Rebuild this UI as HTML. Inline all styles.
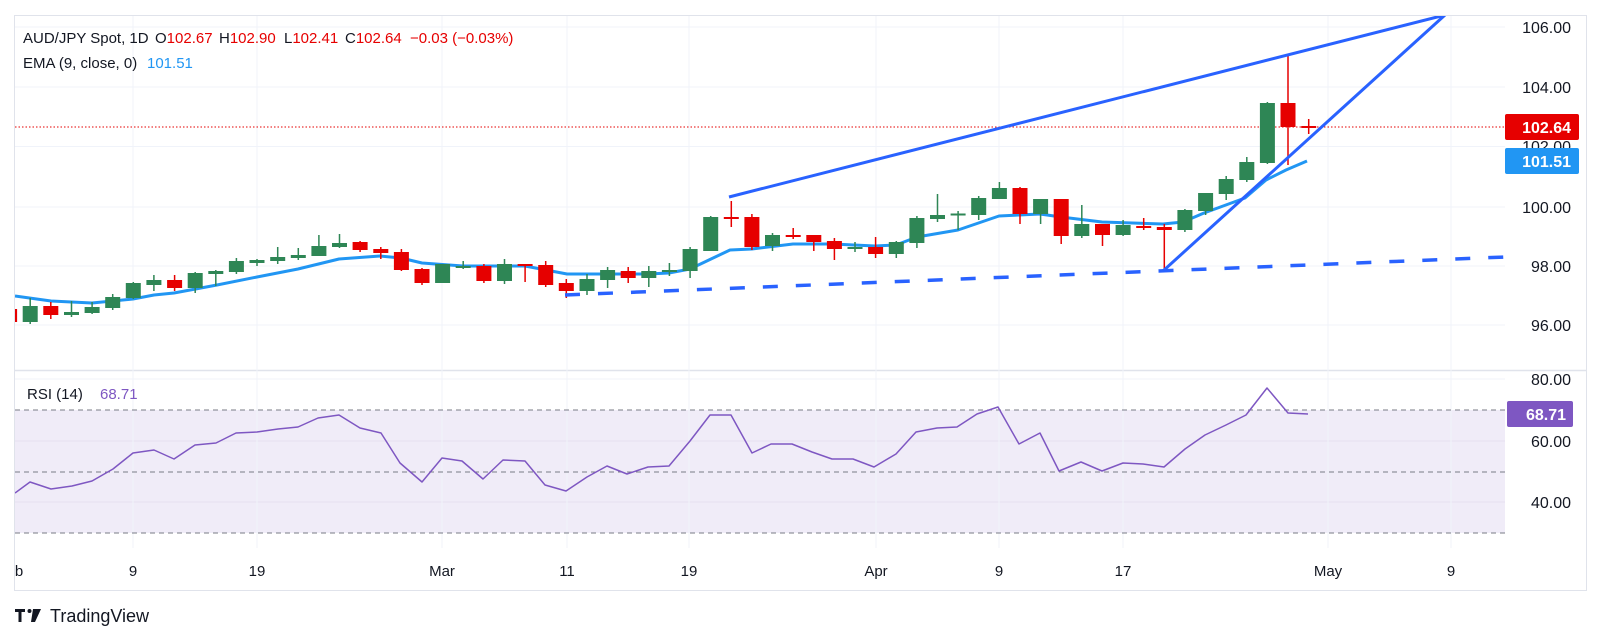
<!DOCTYPE html>
<html><head><meta charset="utf-8"><style>
html,body{margin:0;padding:0;background:#fff;}
svg{display:block;font-family:"Liberation Sans",sans-serif;}
</style></head><body>
<svg width="1601" height="644" viewBox="0 0 1601 644" xmlns="http://www.w3.org/2000/svg">
<defs>
<clipPath id="cm"><rect x="15" y="16" width="1490" height="354"/></clipPath>
<clipPath id="cr"><rect x="15" y="371" width="1490" height="177"/></clipPath>
</defs>
<rect x="0" y="0" width="1601" height="644" fill="#fff"/>
<rect x="14.5" y="15.5" width="1572" height="575" fill="none" stroke="#e0e3eb" stroke-width="1"/>
<line x1="15" y1="370.5" x2="1586" y2="370.5" stroke="#e0e3eb" stroke-width="1.5"/>
<rect x="15" y="410" width="1490" height="123" fill="#f0ecf8"/>
<g stroke="#f0f3fa" stroke-width="1">
<line x1="15" y1="27" x2="1505" y2="27"/><line x1="15" y1="87" x2="1505" y2="87"/>
<line x1="15" y1="146.5" x2="1505" y2="146.5"/><line x1="15" y1="207" x2="1505" y2="207"/>
<line x1="15" y1="266" x2="1505" y2="266"/><line x1="15" y1="325" x2="1505" y2="325"/>
<line x1="15" y1="379" x2="1505" y2="379"/><line x1="15" y1="441" x2="1505" y2="441" stroke="#e6e1f0"/><line x1="15" y1="502" x2="1505" y2="502" stroke="#e6e1f0"/>
<line x1="133" y1="16" x2="133" y2="548"/><line x1="257" y1="16" x2="257" y2="548"/><line x1="442" y1="16" x2="442" y2="548"/>
<line x1="567" y1="16" x2="567" y2="548"/><line x1="689" y1="16" x2="689" y2="548"/><line x1="876" y1="16" x2="876" y2="548"/>
<line x1="999" y1="16" x2="999" y2="548"/><line x1="1123" y1="16" x2="1123" y2="548"/><line x1="1328" y1="16" x2="1328" y2="548"/>
<line x1="1451" y1="16" x2="1451" y2="548"/>
</g>
<g stroke="#787b86" stroke-width="1" stroke-dasharray="5,4">
<line x1="15" y1="410" x2="1505" y2="410"/><line x1="15" y1="472" x2="1505" y2="472"/><line x1="15" y1="533" x2="1505" y2="533"/>
</g>
<g clip-path="url(#cm)">
<line x1="15" y1="127" x2="1505" y2="127" stroke="#e60000" stroke-width="1" stroke-dasharray="1.5,2"/>
<polyline fill="none" stroke="#2196f3" stroke-width="3" stroke-linejoin="round" points="15,296 51,301 92,303 133,299 154,295 174,293 217,285 257,277 298,269 339,259 380,256 401,258 422,263 463,266 504,266 525,266 567,274 607,274 648,274 669,273 690,269 711,259 730,250 752,249 793,244 833,244 875,246 896,245 917,237 958,230 999,216 1019,215 1040,214 1061,217 1102,222 1163,224 1183,222 1204,213 1245,198 1266,180 1286,170 1307,161"/>
<g fill="#2e8655">
<rect x="29.45" y="298" width="1.5" height="26"/><rect x="22.7" y="306" width="15" height="16"/>
<rect x="70.75" y="301" width="1.5" height="16"/><rect x="64" y="312" width="15" height="3"/>
<rect x="91.35" y="302" width="1.5" height="12"/><rect x="84.6" y="307" width="15" height="6"/>
<rect x="111.95" y="294" width="1.5" height="16"/><rect x="105.2" y="297" width="15" height="11"/>
<rect x="132.55" y="282" width="1.5" height="17"/><rect x="125.8" y="283" width="15" height="15"/>
<rect x="153.15" y="275" width="1.5" height="16"/><rect x="146.4" y="280" width="15" height="5"/>
<rect x="194.45" y="272" width="1.5" height="21"/><rect x="187.7" y="273" width="15" height="15"/>
<rect x="215.05" y="270" width="1.5" height="16"/><rect x="208.3" y="271" width="15" height="3"/>
<rect x="235.65" y="258" width="1.5" height="16"/><rect x="228.9" y="261" width="15" height="11"/>
<rect x="256.25" y="259" width="1.5" height="7"/><rect x="249.5" y="260" width="15" height="3"/>
<rect x="276.95" y="247" width="1.5" height="17"/><rect x="270.2" y="257" width="15" height="4"/>
<rect x="297.55" y="248" width="1.5" height="12"/><rect x="290.8" y="255" width="15" height="3"/>
<rect x="318.15" y="235" width="1.5" height="21"/><rect x="311.4" y="246" width="15" height="10"/>
<rect x="338.75" y="234" width="1.5" height="14"/><rect x="332" y="243" width="15" height="4"/>
<rect x="441.85" y="264" width="1.5" height="19"/><rect x="435.1" y="264" width="15" height="19"/>
<rect x="462.45" y="261" width="1.5" height="8"/><rect x="455.7" y="266" width="15" height="2"/>
<rect x="503.75" y="259" width="1.5" height="25"/><rect x="497" y="264" width="15" height="17"/>
<rect x="586.25" y="274" width="1.5" height="21"/><rect x="579.5" y="279" width="15" height="12"/>
<rect x="606.85" y="267" width="1.5" height="21"/><rect x="600.1" y="270" width="15" height="10"/>
<rect x="648.05" y="266" width="1.5" height="21"/><rect x="641.3" y="271" width="15" height="7"/>
<rect x="668.65" y="263" width="1.5" height="13"/><rect x="661.9" y="270" width="15" height="2"/>
<rect x="689.35" y="247" width="1.5" height="31"/><rect x="682.6" y="249" width="15" height="22"/>
<rect x="709.95" y="216" width="1.5" height="35"/><rect x="703.2" y="217" width="15" height="34"/>
<rect x="771.75" y="233" width="1.5" height="18"/><rect x="765" y="235" width="15" height="11"/>
<rect x="854.25" y="242" width="1.5" height="10"/><rect x="847.5" y="247" width="15" height="2"/>
<rect x="895.55" y="241" width="1.5" height="17"/><rect x="888.8" y="242" width="15" height="12"/>
<rect x="916.15" y="216" width="1.5" height="32"/><rect x="909.4" y="218" width="15" height="25"/>
<rect x="936.75" y="194" width="1.5" height="28"/><rect x="930" y="215" width="15" height="4"/>
<rect x="957.35" y="211" width="1.5" height="19"/><rect x="950.6" y="213.5" width="15" height="2"/>
<rect x="977.95" y="196" width="1.5" height="24"/><rect x="971.2" y="198" width="15" height="17"/>
<rect x="998.65" y="182" width="1.5" height="17"/><rect x="991.9" y="188" width="15" height="11"/>
<rect x="1039.85" y="199" width="1.5" height="25"/><rect x="1033.1" y="199" width="15" height="15"/>
<rect x="1081.05" y="205" width="1.5" height="33"/><rect x="1074.3" y="224" width="15" height="12"/>
<rect x="1122.35" y="220" width="1.5" height="16"/><rect x="1115.6" y="225" width="15" height="10"/>
<rect x="1184.15" y="209" width="1.5" height="23"/><rect x="1177.4" y="210" width="15" height="20"/>
<rect x="1204.85" y="193" width="1.5" height="22"/><rect x="1198.1" y="193" width="15" height="18"/>
<rect x="1225.45" y="176" width="1.5" height="24"/><rect x="1218.7" y="179" width="15" height="15"/>
<rect x="1246.05" y="157" width="1.5" height="25"/><rect x="1239.3" y="162" width="15" height="18"/>
<rect x="1266.65" y="102" width="1.5" height="62"/><rect x="1259.9" y="103" width="15" height="60"/>
</g>
<g fill="#e60000">
<rect x="8.85" y="305" width="1.5" height="20"/><rect x="2.1" y="309" width="15" height="13"/>
<rect x="50.05" y="302" width="1.5" height="17"/><rect x="43.3" y="306" width="15" height="9"/>
<rect x="173.85" y="275" width="1.5" height="16"/><rect x="167.1" y="280" width="15" height="8"/>
<rect x="359.35" y="241" width="1.5" height="11"/><rect x="352.6" y="242" width="15" height="8"/>
<rect x="380.05" y="247" width="1.5" height="12"/><rect x="373.3" y="249" width="15" height="4"/>
<rect x="400.65" y="249" width="1.5" height="22"/><rect x="393.9" y="252" width="15" height="18"/>
<rect x="421.25" y="268" width="1.5" height="17"/><rect x="414.5" y="269" width="15" height="14"/>
<rect x="483.15" y="264" width="1.5" height="19"/><rect x="476.4" y="266" width="15" height="15"/>
<rect x="524.35" y="264" width="1.5" height="18"/><rect x="517.6" y="264" width="15" height="2"/>
<rect x="544.95" y="261" width="1.5" height="26"/><rect x="538.2" y="265" width="15" height="20"/>
<rect x="565.55" y="279" width="1.5" height="19"/><rect x="558.8" y="283" width="15" height="8"/>
<rect x="627.45" y="267" width="1.5" height="16"/><rect x="620.7" y="271" width="15" height="7"/>
<rect x="730.55" y="201" width="1.5" height="26"/><rect x="723.8" y="217" width="15" height="2"/>
<rect x="751.15" y="214" width="1.5" height="36"/><rect x="744.4" y="217" width="15" height="30"/>
<rect x="792.45" y="228" width="1.5" height="11"/><rect x="785.7" y="235" width="15" height="2"/>
<rect x="813.05" y="235" width="1.5" height="16"/><rect x="806.3" y="235" width="15" height="7"/>
<rect x="833.65" y="238" width="1.5" height="22"/><rect x="826.9" y="241" width="15" height="8"/>
<rect x="874.85" y="237" width="1.5" height="21"/><rect x="868.1" y="247" width="15" height="7"/>
<rect x="1019.25" y="187" width="1.5" height="37"/><rect x="1012.5" y="188" width="15" height="26"/>
<rect x="1060.45" y="199" width="1.5" height="45"/><rect x="1053.7" y="199" width="15" height="37"/>
<rect x="1101.75" y="224" width="1.5" height="22"/><rect x="1095" y="224" width="15" height="11"/>
<rect x="1142.95" y="218" width="1.5" height="12"/><rect x="1136.2" y="226" width="15" height="2"/>
<rect x="1163.55" y="224" width="1.5" height="47"/><rect x="1156.8" y="227" width="15" height="3"/>
<rect x="1287.25" y="56" width="1.5" height="109"/><rect x="1280.5" y="103" width="15" height="24"/>
<rect x="1307.95" y="119" width="1.5" height="15"/><rect x="1301.2" y="126" width="15" height="2"/>
</g>
<line x1="565" y1="295" x2="1505" y2="257" stroke="#2962ff" stroke-width="3.5" stroke-dasharray="15,18"/>
<line x1="729" y1="197" x2="1445" y2="15" stroke="#2962ff" stroke-width="3"/>
<line x1="1163" y1="271" x2="1445" y2="15" stroke="#2962ff" stroke-width="3"/>
</g>
<g clip-path="url(#cr)">
<polyline fill="none" stroke="#7e57c2" stroke-width="1.5" stroke-linejoin="round" points="15,493 30,482 51,489 72,486 92,481 113,469 133,453 154,450 174,459 195,445 216,443 236,433 257,432 278,429 298,427 318,418 339,415 360,428 381,433 400,463 422,482 442,458 462,461 483,479 503,460 525,461 545,485 566,491 587,477 607,466 627,474 648,467 669,466 690,441 710,415 731,415 752,453 771,444 792,444 812,452 832,459 853,459 874,467 896,454 916,432 937,428 957,427 977,414 998,407 1019,444 1040,433 1059,471 1081,462 1102,471 1123,463 1143,464 1164,467 1185,449 1205,435 1226,425 1246,415 1267,388 1288,413 1308,414"/>
</g>
<g font-size="15" fill="#131722">
<text x="23" y="43">AUD/JPY Spot, 1D</text>
<text x="155" y="43">O<tspan fill="#e60000">102.67</tspan></text>
<text x="219" y="43">H<tspan fill="#e60000">102.90</tspan></text>
<text x="284" y="43">L<tspan fill="#e60000">102.41</tspan></text>
<text x="345" y="43">C<tspan fill="#e60000">102.64</tspan></text>
<text x="410" y="43" fill="#e60000">−0.03 (−0.03%)</text>
<text x="23" y="68">EMA (9, close, 0)</text>
<text x="147" y="68" fill="#2196f3">101.51</text>
<text x="27" y="399">RSI (14)</text>
<text x="100" y="399" fill="#7e57c2">68.71</text>
</g>
<g font-size="16" fill="#131722" text-anchor="end">
<text x="1571" y="33">106.00</text><text x="1571" y="93">104.00</text><text x="1571" y="152">102.00</text>
<text x="1571" y="213">100.00</text><text x="1571" y="272">98.00</text><text x="1571" y="331">96.00</text>
<text x="1571" y="385">80.00</text><text x="1571" y="447">60.00</text><text x="1571" y="508">40.00</text>
</g>
<rect x="1505" y="114" width="74" height="26" rx="2" fill="#e60000"/>
<text x="1571" y="133" font-size="16" font-weight="bold" fill="#fff" text-anchor="end">102.64</text>
<rect x="1505" y="148" width="74" height="26" rx="2" fill="#2196f3"/>
<text x="1571" y="167" font-size="16" font-weight="bold" fill="#fff" text-anchor="end">101.51</text>
<rect x="1507" y="401" width="66" height="26" rx="2" fill="#7e57c2"/>
<text x="1566" y="420" font-size="16" font-weight="bold" fill="#fff" text-anchor="end">68.71</text>
<g font-size="15" fill="#131722" text-anchor="middle">
<text x="19" y="576">b</text><text x="133" y="576">9</text><text x="257" y="576">19</text><text x="442" y="576">Mar</text>
<text x="567" y="576">11</text><text x="689" y="576">19</text><text x="876" y="576">Apr</text><text x="999" y="576">9</text>
<text x="1123" y="576">17</text><text x="1328" y="576">May</text><text x="1451" y="576">9</text>
</g>
<g fill="#131722">
<path d="M15 609h10v3h-3.5v10h-3v-10h-3.5z"/>
<circle cx="29.5" cy="611" r="2"/>
<path d="M33 609h8l-6 13h-4z"/>
<text x="50" y="622" font-size="18">TradingView</text>
</g>
</svg>
</body></html>
